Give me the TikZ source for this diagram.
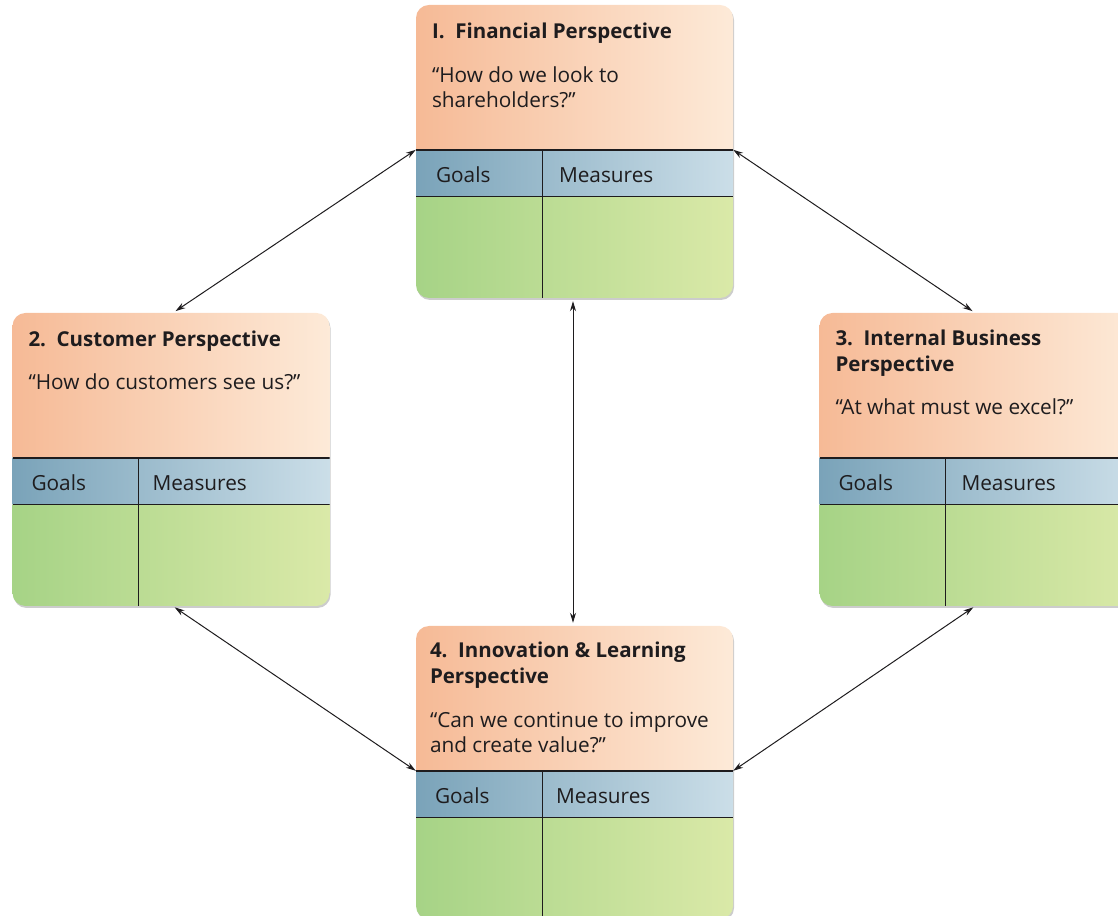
\documentclass[tikz,border=0pt]{standalone}
\usepackage{fontspec}
\setmainfont{Open Sans}
\usetikzlibrary{arrows.meta, positioning, calc, shadows}

\definecolor{headl}{RGB}{246,186,150}
\definecolor{headr}{RGB}{253,234,216}
\definecolor{rowl}{RGB}{122,163,185}
\definecolor{rowr}{RGB}{203,222,232}
\definecolor{bodyl}{RGB}{166,211,134}
\definecolor{bodyr}{RGB}{218,233,168}
\definecolor{ink}{RGB}{30,28,30}

\tikzset{
  card/.style={rectangle, rounded corners=13pt, minimum width=317pt, minimum height=293pt, inner sep=0pt,
    drop shadow={shadow xshift=1pt, shadow yshift=-2pt, opacity=0.2, fill=black},
    path picture={
      \shade[sharp corners, left color=headl, right color=headr] (path picture bounding box.north west) rectangle ([yshift=-145pt]path picture bounding box.north east);
      \shade[sharp corners, left color=rowl, right color=rowr] ([yshift=-145pt]path picture bounding box.north west) rectangle ([yshift=-192pt]path picture bounding box.north east);
      \shade[sharp corners, left color=bodyl, right color=bodyr] ([yshift=-192pt]path picture bounding box.north west) rectangle (path picture bounding box.south east);
      \draw[sharp corners, ink, line width=1.4pt] ([yshift=-145pt]path picture bounding box.north west) -- ([yshift=-145pt]path picture bounding box.north east);
      \draw[sharp corners, ink, line width=1pt] ([yshift=-192pt]path picture bounding box.north west) -- ([yshift=-192pt]path picture bounding box.north east);
      \draw[sharp corners, ink, line width=1pt] ([xshift=126pt,yshift=-145pt]path picture bounding box.north west) -- ([xshift=126pt]path picture bounding box.south west);
    }},
  title/.style={anchor=base west, inner sep=0pt, align=left, text=ink, font=\fontsize{20.5}{26}\selectfont\bfseries},
  question/.style={anchor=base west, inner sep=0pt, align=left, text=ink, font=\fontsize{20.8}{25}\selectfont},
  rowtext/.style={anchor=base west, inner sep=0pt, text=ink, font=\fontsize{20.8}{25}\selectfont},
  link/.style={{Stealth[length=10pt,width=6pt]}-{Stealth[length=10pt,width=6pt]}, ink, line width=1pt}
}

\begin{document}
\begin{tikzpicture}[x=1pt, y=1pt]
\useasboundingbox (0,0) rectangle (1118,915);

% cards
\node[card] (fin) at (574.5,763.5) {};
\node[card] (cus) at (171,455.5) {};
\node[card] (int) at (978,455.5) {};
\node[card] (inn) at (574.5,142.5) {};

% texts (base = last line)
\node[title] (fintitle) at ([shift={(16,-34)}]fin.north west) {I.\ \ Financial Perspective};
\node[question] (finq) at ([shift={(16,-103)}]fin.north west) {“How do we look to\\shareholders?”};
\node[rowtext] (fingoals) at ([shift={(20,-178)}]fin.north west) {Goals};
\node[rowtext] (finmeas) at ([shift={(143,-178)}]fin.north west) {Measures};

\node[title] (custitle) at ([shift={(16,-34)}]cus.north west) {2.\ \ Customer Perspective};
\node[question] (cusq) at ([shift={(16,-77)}]cus.north west) {“How do customers see us?”};
\node[rowtext] (cusgoals) at ([shift={(19,-178)}]cus.north west) {Goals};
\node[rowtext] (cusmeas) at ([shift={(140,-178)}]cus.north west) {Measures};

\node[title] (inttitle) at ([shift={(16,-59)}]int.north west) {3.\ \ Internal Business\\Perspective};
\node[question] (intq) at ([shift={(16,-102)}]int.north west) {“At what must we excel?”};
\node[rowtext] (intgoals) at ([shift={(19,-178)}]int.north west) {Goals};
\node[rowtext] (intmeas) at ([shift={(142,-178)}]int.north west) {Measures};

\node[title] (inntitle) at ([shift={(14,-58)}]inn.north west) {4.\ \ Innovation \& Learning\\Perspective};
\node[question] (innq) at ([shift={(14,-127)}]inn.north west) {“Can we continue to improve\\and create value?”};
\node[rowtext] (inngoals) at ([shift={(19,-178)}]inn.north west) {Goals};
\node[rowtext] (innmeas) at ([shift={(140,-178)}]inn.north west) {Measures};

% header line ends
\coordinate (finL) at ([yshift=-145pt]fin.north west);
\coordinate (finR) at ([yshift=-145pt]fin.north east);
\coordinate (innL) at ([yshift=-145pt]inn.north west);
\coordinate (innR) at ([yshift=-145pt]inn.north east);

%connections
\draw[link, shorten <=3pt] ([xshift=2pt]cus.north) -- (finL);
\draw[link, shorten <=3pt] ([xshift=-3pt]int.north) -- (finR);
\draw[link, shorten <=3pt, shorten >=3pt] ([xshift=-1.5pt]fin.south) -- ([xshift=-1.5pt]inn.north);
\draw[link, shorten <=2pt] ([xshift=2pt]cus.south) -- (innL);
\draw[link, shorten <=2pt] ([xshift=-3pt]int.south) -- (innR);
\end{tikzpicture}
\end{document}
